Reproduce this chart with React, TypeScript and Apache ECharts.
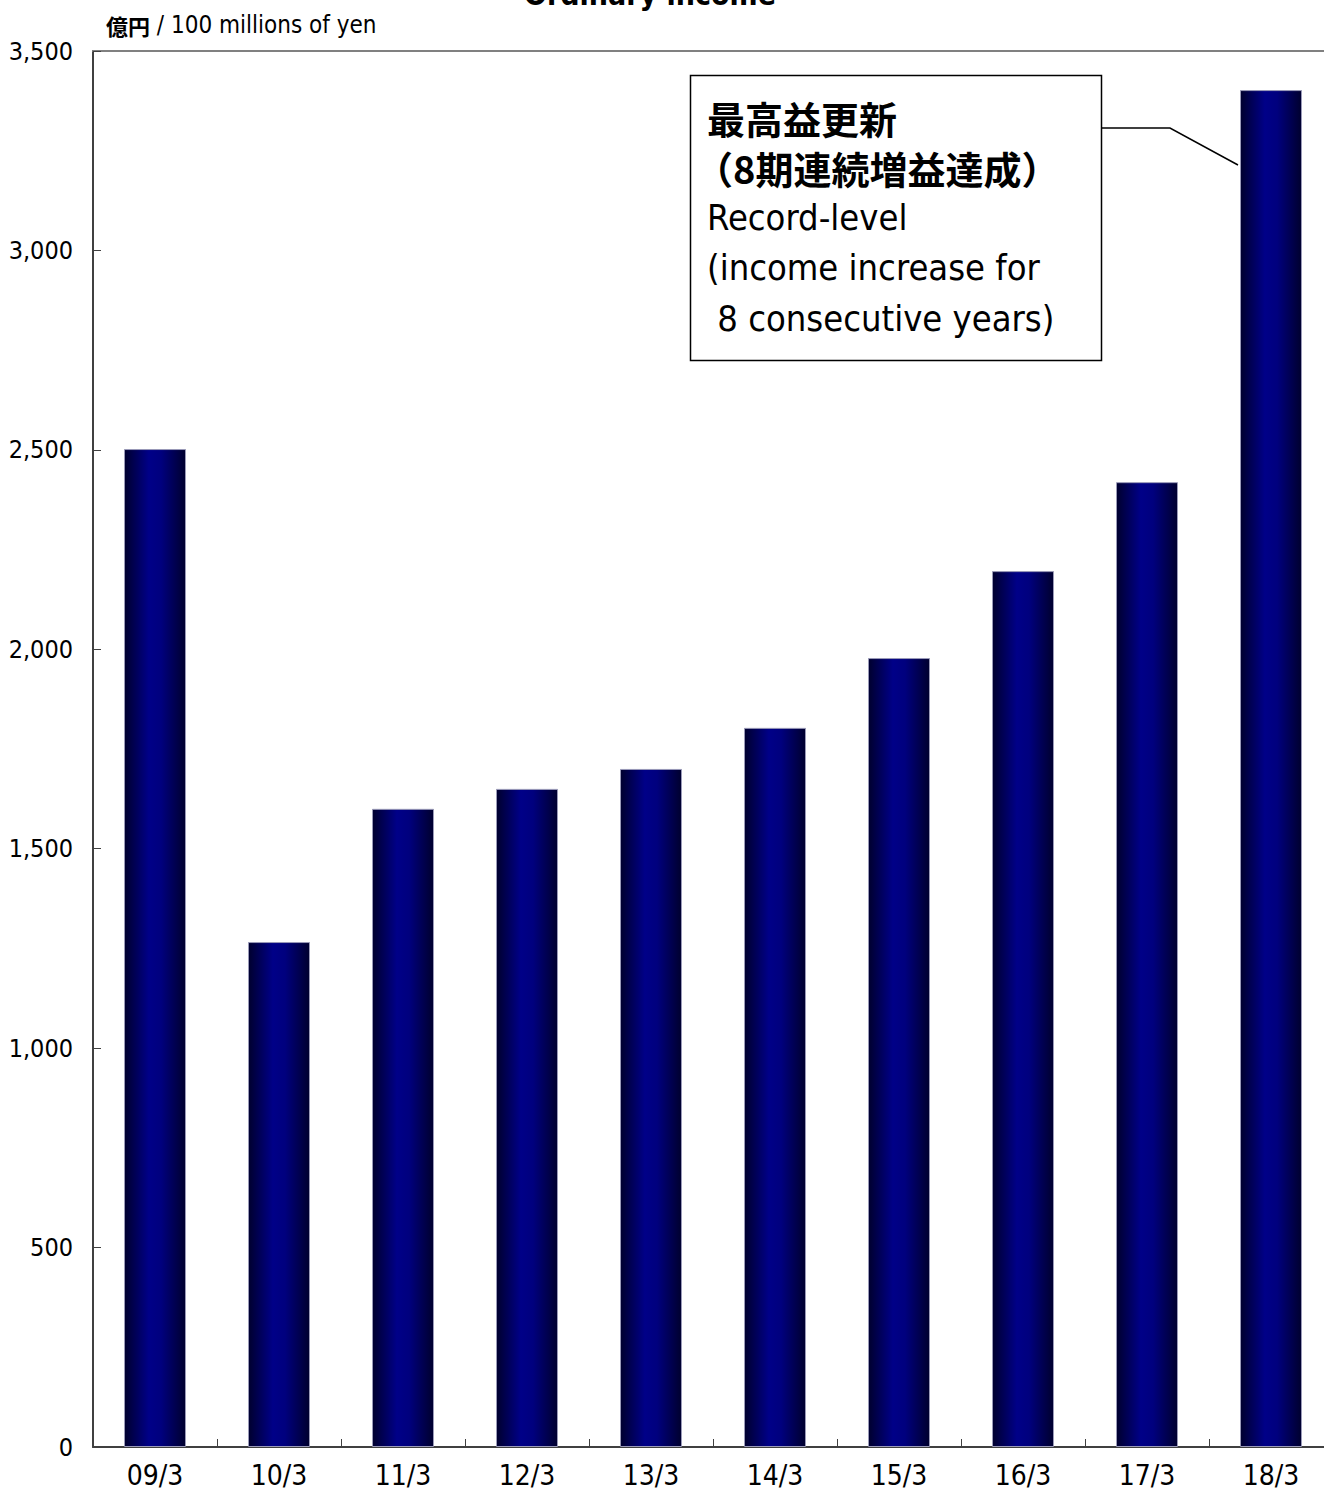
import React, { useEffect, useRef } from "react";
import * as echarts from "echarts";

const categories = ["09/3", "10/3", "11/3", "12/3", "13/3", "14/3", "15/3", "16/3", "17/3", "18/3"];
const ordinaryIncome = [2502, 1266, 1600, 1650, 1700, 1803, 1978, 2196, 2419, 3402];
const yTicks = { min: 0, max: 3500, interval: 500 };
const titleText = "Ordinary income";
const unitJp = "億円";
const unitEn = " / 100 millions of yen";
const noteLines = [
  "最高益更新",
  "（8期連続増益達成）",
  "Record-level",
  "(income increase for",
  " 8 consecutive years)",
];

const FONT = "'DejaVu Sans Condensed', 'DejaVu Sans', 'Noto Sans CJK JP', sans-serif";
const JP = "'Noto Sans CJK JP', sans-serif";

export default function App() {
  const ref = useRef<HTMLDivElement>(null);
  useEffect(() => {
    if (!ref.current) return;
    const chart = echarts.init(ref.current, null, { renderer: "svg" });
    const barColor = new echarts.graphic.LinearGradient(0, 0, 1, 0, [
      { offset: 0, color: "#00002e" },
      { offset: 0.4, color: "#000088" },
      { offset: 0.6, color: "#00007e" },
      { offset: 1, color: "#00002e" },
    ]);
    chart.setOption({
      animation: false,
      backgroundColor: "#ffffff",
      grid: { left: 93, top: 51, width: 1240, bottom: 45, containLabel: false },
      xAxis: [
        {
          type: "category",
          data: categories,
          axisLine: { lineStyle: { color: "#404040", width: 2 } },
          axisTick: { show: true, inside: true, length: 8, lineStyle: { color: "#404040", width: 1 } },
          axisLabel: { color: "#000", fontSize: 28, fontFamily: FONT, margin: 14 },
        },
        {
          type: "category",
          data: categories,
          position: "top",
          axisLine: { lineStyle: { color: "#808080", width: 2 } },
          axisTick: { show: false },
          axisLabel: { show: false },
        },
      ],
      yAxis: {
        type: "value",
        min: yTicks.min,
        max: yTicks.max,
        interval: yTicks.interval,
        axisLine: { show: true, lineStyle: { color: "#404040", width: 2 } },
        axisTick: { show: true, inside: true, length: 8, lineStyle: { color: "#404040", width: 1 } },
        splitLine: { show: false },
        axisLabel: {
          color: "#000",
          fontSize: 25,
          fontFamily: FONT,
          margin: 20,
          formatter: (v: number) => v.toLocaleString("en-US"),
        },
      },
      series: [
        {
          type: "bar",
          data: ordinaryIncome,
          barWidth: "50%",
          itemStyle: { color: barColor, borderColor: "#9a9ab8", borderWidth: 1 },
        },
      ],
      graphic: [
        {
          type: "text",
          x: 650,
          y: -21,
          style: {
            text: titleText,
            fontSize: 30,
            fontWeight: "bold",
            fontFamily: FONT,
            fill: "#000",
            align: "center",
          },
        },
        {
          type: "text",
          x: 106,
          y: 25,
          style: {
            text: `{jp|${unitJp}}{en|${unitEn}}`,
            fill: "#000",
            verticalAlign: "middle",
            rich: {
              jp: { fontSize: 22, fontWeight: "bold", fontFamily: JP, fill: "#000" },
              en: { fontSize: 24, fontFamily: FONT, fill: "#000" },
            },
          },
        },
        {
          type: "rect",
          shape: { x: 690.5, y: 75.5, width: 411, height: 285 },
          style: { fill: "#ffffff", stroke: "#000", lineWidth: 1.5 },
        },
        {
          type: "polyline",
          shape: { points: [[1102, 128], [1170, 128], [1238, 165]] },
          style: { stroke: "#000", lineWidth: 1.5, fill: null },
        },
        ...noteLines.map((t, i) => ({
          type: "text",
          x: i === 1 ? 695 : 707,
          y: 117 + i * 50.3,
          style: {
            text: t,
            fontSize: i < 2 ? 38 : 36,
            fontWeight: i < 2 ? "bold" : "normal",
            fontFamily: i < 2 ? JP : FONT,
            fill: "#000",
            verticalAlign: "middle",
            lineHeight: i < 2 ? 46 : 44,
          },
        })),
      ],
    });
    return () => chart.dispose();
  }, []);
  return (
    <div style={{ position: "absolute", left: 0, top: 0, width: 1324, height: 1492, overflow: "hidden" }}>
      <div ref={ref} style={{ width: 1340, height: 1492 }} />
    </div>
  );
}
